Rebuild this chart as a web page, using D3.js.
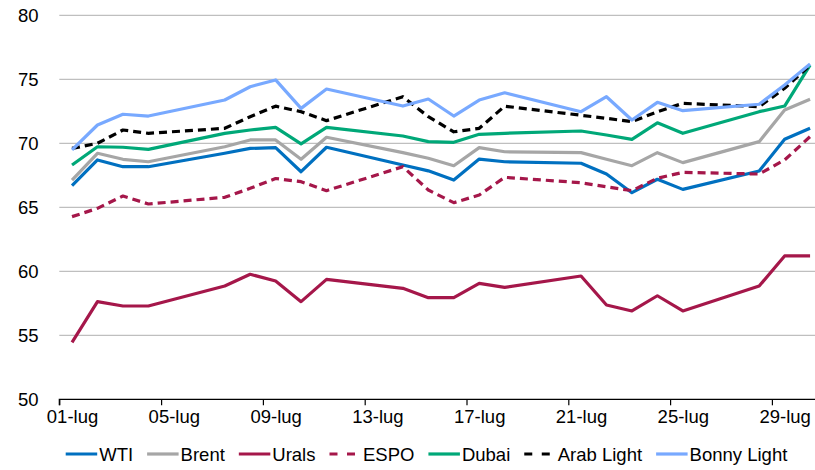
<!DOCTYPE html>
<html><head><meta charset="utf-8">
<script src="https://cdn.jsdelivr.net/npm/d3@7/dist/d3.min.js"></script>
<style>
body{margin:0;background:#fff;}
text{font-family:"Liberation Sans",Arial,sans-serif;}
</style></head>
<body><svg id="c" width="815" height="470"></svg>
<script>
// Days of July 2025 with quotes
const days = [1,2,3,4,7,8,9,10,11,14,15,16,17,18,21,22,23,24,25,28,29,30];
const wti   = [66.69,68.70,68.17,68.17,69.22,69.60,69.66,67.78,69.69,68.30,67.85,67.13,68.77,68.56,68.44,67.60,66.14,67.19,66.40,67.84,70.31,71.17];
const brent = [67.13,69.22,68.75,68.56,69.73,70.26,70.26,68.75,70.47,69.27,68.83,68.25,69.66,69.34,69.27,68.75,68.25,69.27,68.49,70.13,72.60,73.44];
const urals = [54.45,57.63,57.29,57.29,58.85,59.77,59.24,57.63,59.37,58.67,57.94,57.94,59.06,58.75,59.63,57.37,56.90,58.09,56.90,58.85,61.20,61.20];
const espo  = [64.27,64.92,65.88,65.26,65.78,66.48,67.25,67.00,66.30,68.17,66.35,65.36,65.96,67.34,66.92,66.60,66.30,67.27,67.73,67.60,68.70,70.52];
const dubai = [68.30,69.73,69.69,69.53,70.78,71.04,71.25,69.95,71.25,70.57,70.13,70.08,70.70,70.78,70.96,70.65,70.31,71.60,70.78,72.47,72.91,76.10];
const arab  = [69.60,70.00,71.04,70.78,71.17,72.08,72.90,72.47,71.77,73.64,72.08,70.90,71.17,72.90,72.19,71.95,71.69,72.47,73.12,72.86,74.30,76.10];
const bonny = [69.48,71.43,72.27,72.13,73.38,74.42,74.95,72.73,74.24,72.91,73.46,72.13,73.38,73.95,72.47,73.64,71.82,73.20,72.55,73.05,74.55,76.20];
const xTickDays = [1,5,9,13,17,21,25,29];
const yTicks = [50,55,60,65,70,75,80];
const seriesNames = ["WTI","Brent","Urals","ESPO","Dubai","Arab Light","Bonny Light"];

const series = [
  {name:seriesNames[0], values:wti,   color:"#0070C0", dash:null},
  {name:seriesNames[1], values:brent, color:"#A6A6A6", dash:null},
  {name:seriesNames[2], values:urals, color:"#A5174A", dash:null},
  {name:seriesNames[3], values:espo,  color:"#A5174A", dash:"8,5"},
  {name:seriesNames[4], values:dubai, color:"#00A878", dash:null},
  {name:seriesNames[5], values:arab,  color:"#000000", dash:"8,5"},
  {name:seriesNames[6], values:bonny, color:"#78A9FF", dash:null}
];

const svg = d3.select("#c");
const left = 59.3, dayW = 25.45;
const dayDate = d => new Date(2025, 6, d);
const x = d3.scaleTime().domain([dayDate(1), dayDate(32)]).range([left, left + 31*dayW]);
const y = d3.scaleLinear().domain([50,80]).range([399.3, 15.3]);
const half = dayW/2;
const xc = d => x(dayDate(d)) + half;

// gridlines
svg.append("g").selectAll("line").data(yTicks.filter(v=>v>50)).join("line")
  .attr("x1", left).attr("x2", 815)
  .attr("y1", d=>y(d)).attr("y2", d=>y(d))
  .attr("stroke", "#BFBFBF").attr("stroke-width", 1.3);

// y labels
svg.append("g").selectAll("text").data(yTicks).join("text")
  .attr("x", 38.5).attr("y", d=>y(d)).attr("dy","0.36em")
  .attr("text-anchor","end").attr("font-size", 18.5).attr("fill","#000")
  .text(d=>d);

// x axis
const xAxis = d3.axisBottom(x).tickValues(xTickDays.map(dayDate)).tickSize(6)
  .tickFormat(d => d3.timeFormat("%d")(d) + "-lug");
const gx = svg.append("g").attr("transform", `translate(0,${y(50)})`).call(xAxis);
gx.select(".domain").attr("stroke","#000").attr("stroke-width",1.2).attr("d", `M${left},6V0H900`);
gx.selectAll(".tick line").attr("stroke","#000").attr("stroke-width",1.2);
gx.selectAll(".tick text").attr("font-size",18.5).attr("fill","#000")
  .attr("font-family",'"Liberation Sans",Arial,sans-serif')
  .attr("x", half).attr("dy","0.95em").attr("y", 6);
gx.attr("font-size", null);

// lines
const line = d3.line().x((d,i)=>xc(days[i])).y(d=>y(d));
svg.append("g").selectAll("path").data(series).join("path")
  .attr("d", s=>line(s.values))
  .attr("fill","none").attr("stroke", s=>s.color).attr("stroke-width",3.2)
  .attr("stroke-linejoin","round")
  .attr("stroke-dasharray", s=>s.dash);

// legend
const lg = svg.append("g").attr("transform","translate(0,454)");
let cx = 65.7;
series.forEach(s=>{
  lg.append("line").attr("x1",cx).attr("x2",cx+31.5).attr("y1",0).attr("y2",0)
    .attr("stroke",s.color).attr("stroke-width",3.2)
    .attr("stroke-dasharray", s.dash ? "8,9.5" : null);
  const t = lg.append("text").attr("x",cx+33.5).attr("y",0).attr("dy","0.36em")
    .attr("font-size",18.5).attr("fill","#000").text(s.name);
  cx = cx + 33.5 + t.node().getComputedTextLength() + 14;
});
</script></body></html>
